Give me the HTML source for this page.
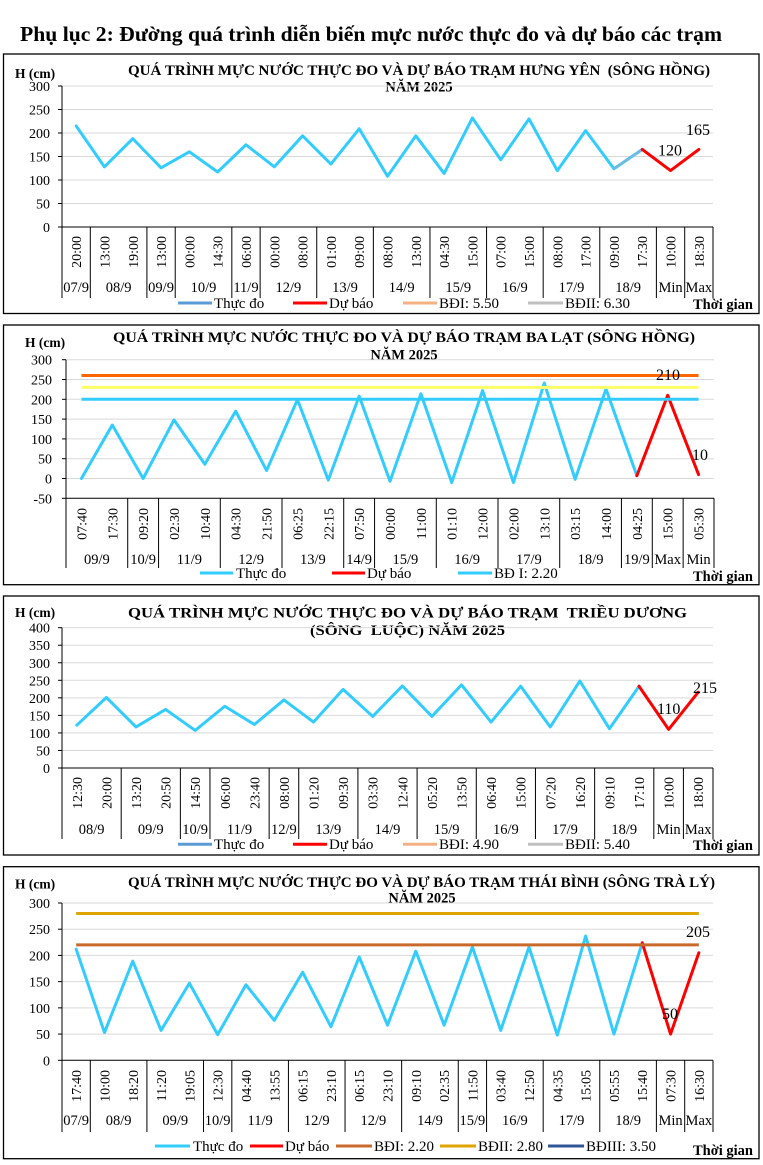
<!DOCTYPE html>
<html><head><meta charset="utf-8"><style>
html,body{margin:0;padding:0;background:#fff;}
svg{display:block;}
text{font-family:"Liberation Serif","DejaVu Serif",serif;fill:#000;}
.b{font-weight:bold;}
.t{font-size:14.5px;font-weight:bold;white-space:pre;}
.yl{font-size:14px;text-anchor:end;}
.cl{font-size:14px;text-anchor:end;}
.dl{font-size:14.5px;text-anchor:middle;}
.lg{font-size:15px;}
.dv{font-size:16px;}
.g{stroke:#D9D9D9;stroke-width:1;}
.ax{stroke:#000;stroke-width:1;fill:none;}
.s{fill:none;stroke:#33CCFF;stroke-width:3;stroke-linejoin:round;stroke-linecap:round;}
.f{fill:none;stroke:#FF0000;stroke-width:3;stroke-linejoin:round;stroke-linecap:round;}
</style></head><body>
<svg width="763" height="1165" viewBox="0 0 763 1165" xmlns="http://www.w3.org/2000/svg">
<rect width="763" height="1165" fill="#fff"/>
<text x="20" y="41" class="b" font-size="21" textLength="702" lengthAdjust="spacingAndGlyphs">Phụ lục 2: Đường quá trình diễn biến mực nước thực đo và dự báo các trạm</text>

<!-- ================= CHART 1 ================= -->
<rect x="3.5" y="54" width="755.5" height="259.5" fill="none" stroke="#000" stroke-width="1.3"/>
<text x="15" y="78" class="b" font-size="13.5">H (cm)</text>
<text x="128" y="75" class="t" textLength="582" lengthAdjust="spacingAndGlyphs">QUÁ TRÌNH MỰC NƯỚC THỰC ĐO VÀ DỰ BÁO TRẠM HƯNG YÊN  (SÔNG HỒNG)</text>
<text x="419" y="91.5" class="t" text-anchor="middle">NĂM 2025</text>
<g class="g">
<line x1="62" x2="713" y1="86" y2="86"/><line x1="62" x2="713" y1="109.5" y2="109.5"/><line x1="62" x2="713" y1="133" y2="133"/><line x1="62" x2="713" y1="156.5" y2="156.5"/><line x1="62" x2="713" y1="180" y2="180"/><line x1="62" x2="713" y1="203.5" y2="203.5"/>
</g>
<g class="ax">
<line x1="62" x2="713" y1="227" y2="227"/>
<line x1="62" x2="62" y1="86" y2="298"/>
<line x1="58" x2="62" y1="86" y2="86"/><line x1="58" x2="62" y1="109.5" y2="109.5"/><line x1="58" x2="62" y1="133" y2="133"/><line x1="58" x2="62" y1="156.5" y2="156.5"/><line x1="58" x2="62" y1="180" y2="180"/><line x1="58" x2="62" y1="203.5" y2="203.5"/><line x1="58" x2="62" y1="227" y2="227"/>
<line x1="90.3" x2="90.3" y1="227" y2="298"/><line x1="146.91" x2="146.91" y1="227" y2="298"/><line x1="175.22" x2="175.22" y1="227" y2="298"/><line x1="231.83" x2="231.83" y1="227" y2="298"/><line x1="260.13" x2="260.13" y1="227" y2="298"/><line x1="316.74" x2="316.74" y1="227" y2="298"/><line x1="373.35" x2="373.35" y1="227" y2="298"/><line x1="429.96" x2="429.96" y1="227" y2="298"/><line x1="486.57" x2="486.57" y1="227" y2="298"/><line x1="543.18" x2="543.18" y1="227" y2="298"/><line x1="599.78" x2="599.78" y1="227" y2="298"/><line x1="656.39" x2="656.39" y1="227" y2="298"/><line x1="684.7" x2="684.7" y1="227" y2="298"/><line x1="713" x2="713" y1="227" y2="298"/>
</g>
<g class="yl">
<text x="50" y="91">300</text><text x="50" y="114.5">250</text><text x="50" y="138">200</text><text x="50" y="161.5">150</text><text x="50" y="185">100</text><text x="50" y="208.5">50</text><text x="50" y="232">0</text>
</g>
<g class="cl">
<text transform="translate(81.15,236) rotate(-90)">20:00</text>
<text transform="translate(109.46,236) rotate(-90)">13:00</text>
<text transform="translate(137.76,236) rotate(-90)">19:00</text>
<text transform="translate(166.07,236) rotate(-90)">13:00</text>
<text transform="translate(194.37,236) rotate(-90)">00:00</text>
<text transform="translate(222.67,236) rotate(-90)">14:30</text>
<text transform="translate(250.98,236) rotate(-90)">06:00</text>
<text transform="translate(279.28,236) rotate(-90)">00:00</text>
<text transform="translate(307.59,236) rotate(-90)">08:00</text>
<text transform="translate(335.89,236) rotate(-90)">01:00</text>
<text transform="translate(364.2,236) rotate(-90)">09:00</text>
<text transform="translate(392.5,236) rotate(-90)">08:00</text>
<text transform="translate(420.8,236) rotate(-90)">13:00</text>
<text transform="translate(449.11,236) rotate(-90)">04:30</text>
<text transform="translate(477.41,236) rotate(-90)">15:00</text>
<text transform="translate(505.72,236) rotate(-90)">07:00</text>
<text transform="translate(534.02,236) rotate(-90)">15:00</text>
<text transform="translate(562.33,236) rotate(-90)">08:00</text>
<text transform="translate(590.63,236) rotate(-90)">17:00</text>
<text transform="translate(618.93,236) rotate(-90)">09:00</text>
<text transform="translate(647.24,236) rotate(-90)">17:30</text>
<text transform="translate(675.54,236) rotate(-90)">10:00</text>
<text transform="translate(703.85,236) rotate(-90)">18:30</text>
</g>
<g class="dl">
<text x="76.15" y="292">07/9</text><text x="118.6" y="292">08/9</text><text x="161.07" y="292">09/9</text><text x="203.5" y="292">10/9</text><text x="245.98" y="292">11/9</text><text x="288.4" y="292">12/9</text><text x="345.0" y="292">13/9</text><text x="401.7" y="292">14/9</text><text x="458.3" y="292">15/9</text><text x="514.9" y="292">16/9</text><text x="571.5" y="292">17/9</text><text x="628.1" y="292">18/9</text><text x="670.54" y="292">Min</text><text x="698.85" y="292">Max</text>
</g>
<polyline class="s" points="76.15,125.95 104.46,166.84 132.76,138.64 161.07,167.78 189.37,151.8 217.67,172.01 245.98,144.75 274.28,166.84 302.59,135.82 330.89,164.02 359.2,128.77 387.5,176.24 415.8,135.82 444.11,173.42 472.41,117.96 500.72,159.79 529.02,118.9 557.33,170.6 585.63,130.65 613.93,168.72 642.24,149.45"/>
<line x1="613.93" y1="168.72" x2="642.24" y2="149.45" stroke="#8FB0CF" stroke-width="1.5"/>
<polyline class="f" points="642.24,149.45 670.54,170.6 698.85,149.45"/>
<text x="686" y="135" class="dv">165</text>
<text x="658" y="155.7" class="dv">120</text>
<g stroke-width="3">
<line x1="178" x2="212" y1="303" y2="303" stroke="#5B9BD5"/>
<line x1="293" x2="327" y1="303" y2="303" stroke="#FF0000"/>
<line x1="403" x2="437" y1="303" y2="303" stroke="#F4B183"/>
<line x1="528" x2="563" y1="303" y2="303" stroke="#BFBFBF"/>
</g>
<g class="lg">
<text x="214" y="308">Thực đo</text><text x="329" y="308">Dự báo</text><text x="439" y="308">BĐI: 5.50</text><text x="565" y="308">BĐII: 6.30</text>
</g>
<text x="693" y="309" class="b" font-size="15" textLength="60" lengthAdjust="spacingAndGlyphs">Thời gian</text>

<!-- ================= CHART 2 ================= -->
<rect x="3.5" y="325" width="755.5" height="259.7" fill="none" stroke="#000" stroke-width="1.3"/>
<text x="25" y="347" class="b" font-size="13.5">H (cm)</text>
<text x="113" y="342" class="t" textLength="582" lengthAdjust="spacingAndGlyphs">QUÁ TRÌNH MỰC NƯỚC THỰC ĐO VÀ DỰ BÁO TRẠM BA LẠT (SÔNG HỒNG)</text>
<text x="404" y="359.5" class="t" text-anchor="middle">NĂM 2025</text>
<g class="g">
<line x1="66" x2="714" y1="359.7" y2="359.7"/><line x1="66" x2="714" y1="379.5" y2="379.5"/><line x1="66" x2="714" y1="399.3" y2="399.3"/><line x1="66" x2="714" y1="419.1" y2="419.1"/><line x1="66" x2="714" y1="438.9" y2="438.9"/><line x1="66" x2="714" y1="458.7" y2="458.7"/><line x1="66" x2="714" y1="478.5" y2="478.5"/>
</g>
<g class="ax">
<line x1="66" x2="714" y1="498.3" y2="498.3"/>
<line x1="66" x2="66" y1="359.7" y2="568"/>
<line x1="62" x2="66" y1="359.7" y2="359.7"/><line x1="62" x2="66" y1="379.5" y2="379.5"/><line x1="62" x2="66" y1="399.3" y2="399.3"/><line x1="62" x2="66" y1="419.1" y2="419.1"/><line x1="62" x2="66" y1="438.9" y2="438.9"/><line x1="62" x2="66" y1="458.7" y2="458.7"/><line x1="62" x2="66" y1="478.5" y2="478.5"/><line x1="62" x2="66" y1="498.3" y2="498.3"/>
<line x1="127.71" x2="127.71" y1="498.3" y2="568"/><line x1="158.57" x2="158.57" y1="498.3" y2="568"/><line x1="220.29" x2="220.29" y1="498.3" y2="568"/><line x1="282" x2="282" y1="498.3" y2="568"/><line x1="343.71" x2="343.71" y1="498.3" y2="568"/><line x1="374.57" x2="374.57" y1="498.3" y2="568"/><line x1="436.29" x2="436.29" y1="498.3" y2="568"/><line x1="498" x2="498" y1="498.3" y2="568"/><line x1="559.71" x2="559.71" y1="498.3" y2="568"/><line x1="621.43" x2="621.43" y1="498.3" y2="568"/><line x1="652.29" x2="652.29" y1="498.3" y2="568"/><line x1="683.14" x2="683.14" y1="498.3" y2="568"/><line x1="714" x2="714" y1="498.3" y2="568"/>
</g>
<g class="yl">
<text x="52" y="364.7">300</text><text x="52" y="384.5">250</text><text x="52" y="404.3">200</text><text x="52" y="424.1">150</text><text x="52" y="443.9">100</text><text x="52" y="463.7">50</text><text x="52" y="483.5">0</text><text x="52" y="503.3">-50</text>
</g>
<g class="cl">
<text transform="translate(86.43,508) rotate(-90)">07:40</text>
<text transform="translate(117.29,508) rotate(-90)">17:30</text>
<text transform="translate(148.14,508) rotate(-90)">09:20</text>
<text transform="translate(179,508) rotate(-90)">02:30</text>
<text transform="translate(209.86,508) rotate(-90)">10:40</text>
<text transform="translate(240.71,508) rotate(-90)">04:30</text>
<text transform="translate(271.57,508) rotate(-90)">21:50</text>
<text transform="translate(302.43,508) rotate(-90)">06:25</text>
<text transform="translate(333.29,508) rotate(-90)">22:15</text>
<text transform="translate(364.14,508) rotate(-90)">07:50</text>
<text transform="translate(395,508) rotate(-90)">00:00</text>
<text transform="translate(425.86,508) rotate(-90)">11:00</text>
<text transform="translate(456.71,508) rotate(-90)">01:10</text>
<text transform="translate(487.57,508) rotate(-90)">12:00</text>
<text transform="translate(518.43,508) rotate(-90)">02:00</text>
<text transform="translate(549.29,508) rotate(-90)">13:10</text>
<text transform="translate(580.14,508) rotate(-90)">03:15</text>
<text transform="translate(611,508) rotate(-90)">14:00</text>
<text transform="translate(641.86,508) rotate(-90)">04:25</text>
<text transform="translate(672.71,508) rotate(-90)">15:00</text>
<text transform="translate(703.57,508) rotate(-90)">05:30</text>
</g>
<g class="dl">
<text x="96.86" y="564">09/9</text><text x="143.14" y="564">10/9</text><text x="189.43" y="564">11/9</text><text x="251.14" y="564">12/9</text><text x="312.86" y="564">13/9</text><text x="359.14" y="564">14/9</text><text x="405.43" y="564">15/9</text><text x="467.14" y="564">16/9</text><text x="528.86" y="564">17/9</text><text x="590.57" y="564">18/9</text><text x="636.86" y="564">19/9</text><text x="667.71" y="564">Max</text><text x="698.57" y="564">Min</text>
</g>
<polyline class="s" points="81.43,478.5 112.29,425.04 143.14,478.5 174,419.89 204.86,464.24 235.71,411.18 266.57,470.58 297.43,399.7 328.29,480.08 359.14,396.13 390,481.27 420.86,393.76 451.71,482.46 482.57,390.59 513.43,482.46 544.29,383.06 575.14,479.29 606,389 636.86,475.73"/>
<polyline class="f" points="636.86,475.73 667.71,395.34 698.57,474.54"/>
<g stroke-width="3">
<line x1="81.43" x2="698.57" y1="375.54" y2="375.54" stroke="#FF6600"/>
<line x1="81.43" x2="698.57" y1="387.42" y2="387.42" stroke="#FFFF66"/>
<line x1="81.43" x2="698.57" y1="399.3" y2="399.3" stroke="#33CCFF"/>
</g>
<text x="656" y="380" class="dv">210</text>
<text x="692" y="460" class="dv">10</text>
<g stroke-width="3">
<line x1="200" x2="233" y1="573" y2="573" stroke="#33CCFF"/>
<line x1="332" x2="365" y1="573" y2="573" stroke="#FF0000"/>
<line x1="458" x2="492" y1="573" y2="573" stroke="#33CCFF"/>
</g>
<g class="lg">
<text x="236" y="578">Thực đo</text><text x="367" y="578">Dự báo</text><text x="494" y="578">BĐ I: 2.20</text>
</g>
<text x="693" y="581" class="b" font-size="15" textLength="60" lengthAdjust="spacingAndGlyphs">Thời gian</text>

<!-- ================= CHART 3 ================= -->
<rect x="3.5" y="596" width="755.5" height="259" fill="none" stroke="#000" stroke-width="1.3"/>
<text x="15" y="617" class="b" font-size="13.5">H (cm)</text>
<text x="128" y="617.5" class="t" textLength="559" lengthAdjust="spacingAndGlyphs">QUÁ TRÌNH MỰC NƯỚC THỰC ĐO VÀ DỰ BÁO TRẠM  TRIỀU DƯƠNG</text>
<text x="310" y="635" class="t" textLength="195" lengthAdjust="spacingAndGlyphs">(SÔNG  LUỘC) NĂM 2025</text>
<g class="g">
<line x1="62" x2="713" y1="627.68" y2="627.68"/><line x1="62" x2="713" y1="645.22" y2="645.22"/><line x1="62" x2="713" y1="662.76" y2="662.76"/><line x1="62" x2="713" y1="680.3" y2="680.3"/><line x1="62" x2="713" y1="697.84" y2="697.84"/><line x1="62" x2="713" y1="715.38" y2="715.38"/><line x1="62" x2="713" y1="732.92" y2="732.92"/><line x1="62" x2="713" y1="750.46" y2="750.46"/>
</g>
<g class="ax">
<line x1="62" x2="713" y1="768" y2="768"/>
<line x1="62" x2="62" y1="627.68" y2="839"/>
<line x1="58" x2="62" y1="627.68" y2="627.68"/><line x1="58" x2="62" y1="645.22" y2="645.22"/><line x1="58" x2="62" y1="662.76" y2="662.76"/><line x1="58" x2="62" y1="680.3" y2="680.3"/><line x1="58" x2="62" y1="697.84" y2="697.84"/><line x1="58" x2="62" y1="715.38" y2="715.38"/><line x1="58" x2="62" y1="732.92" y2="732.92"/><line x1="58" x2="62" y1="750.46" y2="750.46"/><line x1="58" x2="62" y1="768" y2="768"/>
<line x1="121.18" x2="121.18" y1="768" y2="839"/><line x1="180.36" x2="180.36" y1="768" y2="839"/><line x1="209.95" x2="209.95" y1="768" y2="839"/><line x1="269.14" x2="269.14" y1="768" y2="839"/><line x1="298.73" x2="298.73" y1="768" y2="839"/><line x1="357.91" x2="357.91" y1="768" y2="839"/><line x1="417.09" x2="417.09" y1="768" y2="839"/><line x1="476.27" x2="476.27" y1="768" y2="839"/><line x1="535.45" x2="535.45" y1="768" y2="839"/><line x1="594.64" x2="594.64" y1="768" y2="839"/><line x1="653.82" x2="653.82" y1="768" y2="839"/><line x1="683.41" x2="683.41" y1="768" y2="839"/><line x1="713" x2="713" y1="768" y2="839"/>
</g>
<g class="yl">
<text x="50" y="632.68">400</text><text x="50" y="650.22">350</text><text x="50" y="667.76">300</text><text x="50" y="685.3">250</text><text x="50" y="702.84">200</text><text x="50" y="720.38">150</text><text x="50" y="737.92">100</text><text x="50" y="755.46">50</text><text x="50" y="773">0</text>
</g>
<g class="cl">
<text transform="translate(81.8,777) rotate(-90)">12:30</text>
<text transform="translate(111.39,777) rotate(-90)">20:00</text>
<text transform="translate(140.98,777) rotate(-90)">13:20</text>
<text transform="translate(170.57,777) rotate(-90)">20:50</text>
<text transform="translate(200.16,777) rotate(-90)">14:50</text>
<text transform="translate(229.75,777) rotate(-90)">06:00</text>
<text transform="translate(259.34,777) rotate(-90)">23:40</text>
<text transform="translate(288.93,777) rotate(-90)">08:00</text>
<text transform="translate(318.52,777) rotate(-90)">01:20</text>
<text transform="translate(348.11,777) rotate(-90)">09:30</text>
<text transform="translate(377.7,777) rotate(-90)">03:30</text>
<text transform="translate(407.3,777) rotate(-90)">12:40</text>
<text transform="translate(436.89,777) rotate(-90)">05:20</text>
<text transform="translate(466.48,777) rotate(-90)">13:50</text>
<text transform="translate(496.07,777) rotate(-90)">06:40</text>
<text transform="translate(525.66,777) rotate(-90)">15:00</text>
<text transform="translate(555.25,777) rotate(-90)">07:20</text>
<text transform="translate(584.84,777) rotate(-90)">16:20</text>
<text transform="translate(614.43,777) rotate(-90)">09:10</text>
<text transform="translate(644.02,777) rotate(-90)">17:10</text>
<text transform="translate(673.61,777) rotate(-90)">10:00</text>
<text transform="translate(703.2,777) rotate(-90)">18:00</text>
</g>
<g class="dl">
<text x="91.59" y="834">08/9</text><text x="150.77" y="834">09/9</text><text x="195.16" y="834">10/9</text><text x="239.55" y="834">11/9</text><text x="283.93" y="834">12/9</text><text x="328.32" y="834">13/9</text><text x="387.5" y="834">14/9</text><text x="446.68" y="834">15/9</text><text x="505.86" y="834">16/9</text><text x="565.05" y="834">17/9</text><text x="624.23" y="834">18/9</text><text x="668.61" y="834">Min</text><text x="698.2" y="834">Max</text>
</g>
<polyline class="s" points="76.8,725.2 106.39,697.49 135.98,726.96 165.57,709.42 195.16,730.46 224.75,706.26 254.34,724.5 283.93,699.94 313.52,722.05 343.11,689.42 372.7,716.43 402.3,685.91 431.89,716.43 461.48,684.86 491.07,722.05 520.66,686.26 550.25,726.96 579.84,681 609.43,728.71 639.02,686.26"/>
<polyline class="f" points="639.02,686.26 668.61,729.41 698.2,692.23"/>
<text x="657" y="714" class="dv">110</text>
<text x="693" y="693" class="dv">215</text>
<g stroke-width="3">
<line x1="178" x2="212" y1="844.3" y2="844.3" stroke="#5B9BD5"/>
<line x1="293" x2="327" y1="844.3" y2="844.3" stroke="#FF0000"/>
<line x1="403" x2="437" y1="844.3" y2="844.3" stroke="#F4B183"/>
<line x1="528" x2="563" y1="844.3" y2="844.3" stroke="#BFBFBF"/>
</g>
<g class="lg">
<text x="214" y="849">Thực đo</text><text x="329" y="849">Dự báo</text><text x="439" y="849">BĐI: 4.90</text><text x="565" y="849">BĐII: 5.40</text>
</g>
<text x="693" y="850" class="b" font-size="15" textLength="60" lengthAdjust="spacingAndGlyphs">Thời gian</text>

<!-- ================= CHART 4 ================= -->
<rect x="3.5" y="866.7" width="755.5" height="292" fill="none" stroke="#000" stroke-width="1.3"/>
<text x="15" y="888.5" class="b" font-size="13.5">H (cm)</text>
<text x="128" y="887" class="t" textLength="587" lengthAdjust="spacingAndGlyphs">QUÁ TRÌNH MỰC NƯỚC THỰC ĐO VÀ DỰ BÁO TRẠM THÁI BÌNH (SÔNG TRÀ LÝ)</text>
<text x="422" y="902.5" class="t" text-anchor="middle">NĂM 2025</text>
<g class="g">
<line x1="62" x2="713" y1="903" y2="903"/><line x1="62" x2="713" y1="929.2" y2="929.2"/><line x1="62" x2="713" y1="955.42" y2="955.42"/><line x1="62" x2="713" y1="981.64" y2="981.64"/><line x1="62" x2="713" y1="1007.86" y2="1007.86"/><line x1="62" x2="713" y1="1034.08" y2="1034.08"/>
</g>
<g class="ax">
<line x1="62" x2="713" y1="1060.3" y2="1060.3"/>
<line x1="62" x2="62" y1="903" y2="1132"/>
<line x1="58" x2="62" y1="903" y2="903"/><line x1="58" x2="62" y1="929.2" y2="929.2"/><line x1="58" x2="62" y1="955.42" y2="955.42"/><line x1="58" x2="62" y1="981.64" y2="981.64"/><line x1="58" x2="62" y1="1007.86" y2="1007.86"/><line x1="58" x2="62" y1="1034.08" y2="1034.08"/><line x1="58" x2="62" y1="1060.3" y2="1060.3"/>
<line x1="90.3" x2="90.3" y1="1060.3" y2="1132"/><line x1="146.91" x2="146.91" y1="1060.3" y2="1132"/><line x1="203.52" x2="203.52" y1="1060.3" y2="1132"/><line x1="231.83" x2="231.83" y1="1060.3" y2="1132"/><line x1="288.43" x2="288.43" y1="1060.3" y2="1132"/><line x1="345.04" x2="345.04" y1="1060.3" y2="1132"/><line x1="401.65" x2="401.65" y1="1060.3" y2="1132"/><line x1="458.26" x2="458.26" y1="1060.3" y2="1132"/><line x1="486.57" x2="486.57" y1="1060.3" y2="1132"/><line x1="543.18" x2="543.18" y1="1060.3" y2="1132"/><line x1="599.78" x2="599.78" y1="1060.3" y2="1132"/><line x1="656.39" x2="656.39" y1="1060.3" y2="1132"/><line x1="684.7" x2="684.7" y1="1060.3" y2="1132"/><line x1="713" x2="713" y1="1060.3" y2="1132"/>
</g>
<g class="yl">
<text x="50" y="908">300</text><text x="50" y="934.2">250</text><text x="50" y="960.42">200</text><text x="50" y="986.64">150</text><text x="50" y="1012.86">100</text><text x="50" y="1039.08">50</text><text x="50" y="1065.3">0</text>
</g>
<g class="cl">
<text transform="translate(81.15,1070) rotate(-90)">17:40</text>
<text transform="translate(109.46,1070) rotate(-90)">10:00</text>
<text transform="translate(137.76,1070) rotate(-90)">18:20</text>
<text transform="translate(166.07,1070) rotate(-90)">11:20</text>
<text transform="translate(194.37,1070) rotate(-90)">19:05</text>
<text transform="translate(222.67,1070) rotate(-90)">12:30</text>
<text transform="translate(250.98,1070) rotate(-90)">04:40</text>
<text transform="translate(279.28,1070) rotate(-90)">13:55</text>
<text transform="translate(307.59,1070) rotate(-90)">06:15</text>
<text transform="translate(335.89,1070) rotate(-90)">23:10</text>
<text transform="translate(364.2,1070) rotate(-90)">06:15</text>
<text transform="translate(392.5,1070) rotate(-90)">23:10</text>
<text transform="translate(420.8,1070) rotate(-90)">09:10</text>
<text transform="translate(449.11,1070) rotate(-90)">02:35</text>
<text transform="translate(477.41,1070) rotate(-90)">11:50</text>
<text transform="translate(505.72,1070) rotate(-90)">03:40</text>
<text transform="translate(534.02,1070) rotate(-90)">12:50</text>
<text transform="translate(562.33,1070) rotate(-90)">04:35</text>
<text transform="translate(590.63,1070) rotate(-90)">15:05</text>
<text transform="translate(618.93,1070) rotate(-90)">05:55</text>
<text transform="translate(647.24,1070) rotate(-90)">15:40</text>
<text transform="translate(675.54,1070) rotate(-90)">07:30</text>
<text transform="translate(703.85,1070) rotate(-90)">16:30</text>
</g>
<g class="dl">
<text x="76.15" y="1125">07/9</text><text x="118.6" y="1125">08/9</text><text x="175.22" y="1125">09/9</text><text x="217.67" y="1125">10/9</text><text x="260.13" y="1125">11/9</text><text x="316.74" y="1125">12/9</text><text x="373.35" y="1125">12/9</text><text x="429.96" y="1125">14/9</text><text x="472.41" y="1125">15/9</text><text x="514.87" y="1125">16/9</text><text x="571.48" y="1125">17/9</text><text x="628.09" y="1125">18/9</text><text x="670.54" y="1125">Min</text><text x="698.85" y="1125">Max</text>
</g>
<polyline class="s" points="76.15,949.13 104.46,1032.51 132.76,961.19 161.07,1030.41 189.37,983.21 217.67,1034.6 245.98,984.79 274.28,1020.45 302.59,972.2 330.89,1026.74 359.2,956.99 387.5,1025.17 415.8,951.22 444.11,1025.17 472.41,947.03 500.72,1030.41 529.02,947.03 557.33,1035.13 585.63,936.02 613.93,1034.08 642.24,942.83"/>
<polyline class="f" points="642.24,942.83 670.54,1034.08 698.85,952.8"/>
<g stroke-width="3">
<line x1="76.15" x2="698.85" y1="913.47" y2="913.47" stroke="#DFA500"/>
<line x1="76.15" x2="698.85" y1="944.93" y2="944.93" stroke="#C96A2C"/>
</g>
<text x="686" y="937" class="dv">205</text>
<text x="662" y="1019" class="dv">50</text>
<g stroke-width="3">
<line x1="155" x2="190" y1="1146" y2="1146" stroke="#33CCFF"/>
<line x1="250" x2="283" y1="1146" y2="1146" stroke="#FF0000"/>
<line x1="336" x2="372" y1="1146" y2="1146" stroke="#C96A2C"/>
<line x1="440" x2="476" y1="1146" y2="1146" stroke="#DFA500"/>
<line x1="548" x2="584" y1="1146" y2="1146" stroke="#2F5597"/>
</g>
<g class="lg">
<text x="193" y="1151">Thực đo</text><text x="285" y="1151">Dự báo</text><text x="374" y="1151">BĐI: 2.20</text><text x="478" y="1151">BĐII: 2.80</text><text x="586" y="1151">BĐIII: 3.50</text>
</g>
<text x="693" y="1155" class="b" font-size="15" textLength="60" lengthAdjust="spacingAndGlyphs">Thời gian</text>
</svg>
</body></html>
